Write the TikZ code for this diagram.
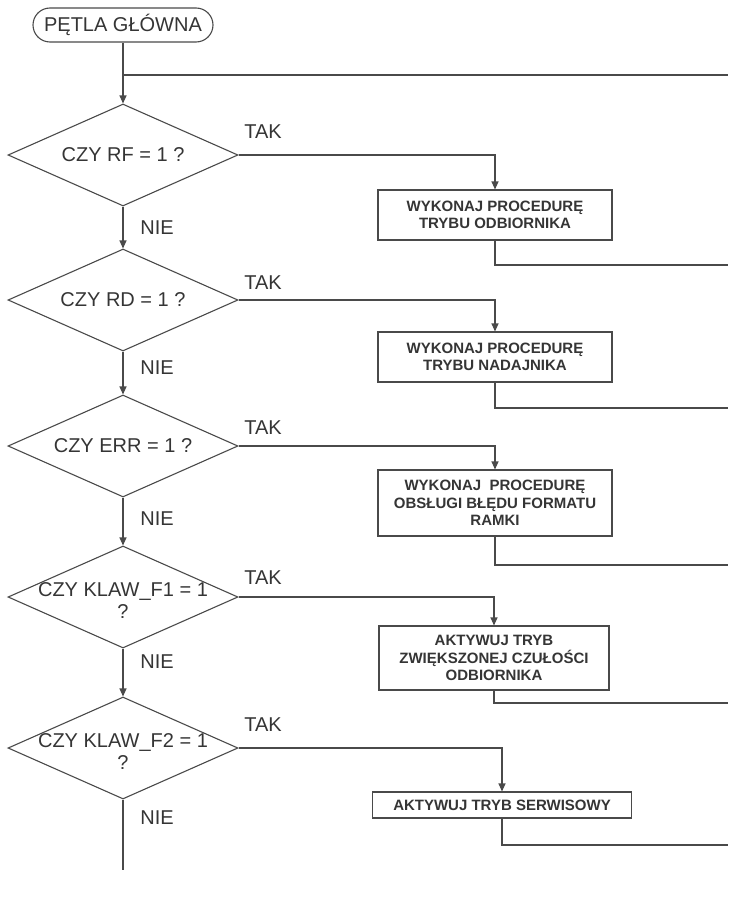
\documentclass[tikz,border=0pt]{standalone}
\usepackage{fontspec}
\setmainfont{Liberation Sans}
\usetikzlibrary{shapes.geometric,arrows.meta}
\definecolor{ln}{HTML}{4A4A4A}
\definecolor{tx}{HTML}{353535}
\begin{document}
\begin{tikzpicture}[x=1pt,y=-1pt,
  line/.style={draw=ln, line width=1.1pt},
  arr/.style={line, -{Triangle[length=8pt,width=7pt]}},
  decision/.style={diamond, draw=ln, line width=1.1pt, inner sep=0pt, minimum width=230pt, minimum height=102pt},
  dtext/.style={text=tx, font=\fontsize{20}{22}\selectfont, align=center, inner sep=0pt},
  lbl/.style={text=tx, font=\fontsize{20}{22}\selectfont, inner sep=0pt},
  proc/.style={rectangle, draw=ln, line width=1.1pt, text=tx, font=\bfseries\fontsize{15}{17.5}\selectfont, align=center, inner sep=0pt},
  term/.style={rectangle, rounded corners=17pt, draw=ln, line width=1.1pt, minimum width=180pt, minimum height=34pt, text=tx, font=\fontsize{20}{22}\selectfont}
]
\useasboundingbox (0,0) rectangle (728,899);
\fill[white] (0,0) rectangle (728,899);

% terminal
\node[term] (start) at (123,25) {PĘTLA GŁÓWNA};

% decisions
\node[decision] (d1) at (123,155) {};
\node[dtext] (t1) at (123,155) {CZY RF = 1 ?};
\node[decision] (d2) at (123,300) {};
\node[dtext] (t2) at (123,300) {CZY RD = 1 ?};
\node[decision] (d3) at (123,446) {};
\node[dtext] (t3) at (123,446) {CZY ERR = 1 ?};
\node[decision] (d4) at (123,597) {};
\node[dtext] (t4) at (123,601) {CZY KLAW\_F1 = 1\\?};
\node[decision] (d5) at (123,748) {};
\node[dtext] (t5) at (123,752) {CZY KLAW\_F2 = 1\\?};

% process boxes
\node[proc, minimum width=234pt, minimum height=50pt] (b1) at (495,215) {WYKONAJ PROCEDURĘ\\TRYBU ODBIORNIKA};
\node[proc, minimum width=234pt, minimum height=50pt] (b2) at (495,357) {WYKONAJ PROCEDURĘ\\TRYBU NADAJNIKA};
\node[proc, minimum width=234pt, minimum height=66pt] (b3) at (495,503) {WYKONAJ\ \ PROCEDURĘ\\OBSŁUGI BŁĘDU FORMATU\\RAMKI};
\node[proc, minimum width=230pt, minimum height=64pt] (b4) at (494,658) {AKTYWUJ TRYB\\ZWIĘKSZONEJ CZUŁOŚCI\\ODBIORNIKA};
\node[proc, minimum width=259pt, minimum height=26pt] (b5) at (502,805) {AKTYWUJ TRYB SERWISOWY};

% labels
\node[lbl] (tak1) at (263,132) {TAK};
\node[lbl] (tak2) at (263,283) {TAK};
\node[lbl] (tak3) at (263,428) {TAK};
\node[lbl] (tak4) at (263,578) {TAK};
\node[lbl] (tak5) at (263,725) {TAK};
\node[lbl] (nie1) at (157,228) {NIE};
\node[lbl] (nie2) at (157,368) {NIE};
\node[lbl] (nie3) at (157,519) {NIE};
\node[lbl] (nie4) at (157,662) {NIE};
\node[lbl] (nie5) at (157,818) {NIE};

% coordinates
\coordinate (j0) at (123,75);
\coordinate (r0) at (728,75);
\coordinate (r1) at (728,265);
\coordinate (r2) at (728,408);
\coordinate (r3) at (728,565);
\coordinate (r4) at (728,703);
\coordinate (r5) at (728,845);
\coordinate (e5) at (123,870);

% connectors
\draw[line] (start.south) -- (j0);
\draw[line] (j0) -- (r0);
\draw[arr] (j0) -- (d1.north);

\draw[arr] (d1.east) -| (b1.north);
\draw[arr] (d2.east) -| (b2.north);
\draw[arr] (d3.east) -| (b3.north);
\draw[arr] (d4.east) -| (b4.north);
\draw[arr] (d5.east) -| (b5.north);

\draw[line] (b1.south) |- (r1);
\draw[line] (b2.south) |- (r2);
\draw[line] (b3.south) |- (r3);
\draw[line] (b4.south) |- (r4);
\draw[line] (b5.south) |- (r5);

\draw[arr] (d1.south) -- (d2.north);
\draw[arr] (d2.south) -- (d3.north);
\draw[arr] (d3.south) -- (d4.north);
\draw[arr] (d4.south) -- (d5.north);
\draw[line] (d5.south) -- (e5);
\end{tikzpicture}
\end{document}
